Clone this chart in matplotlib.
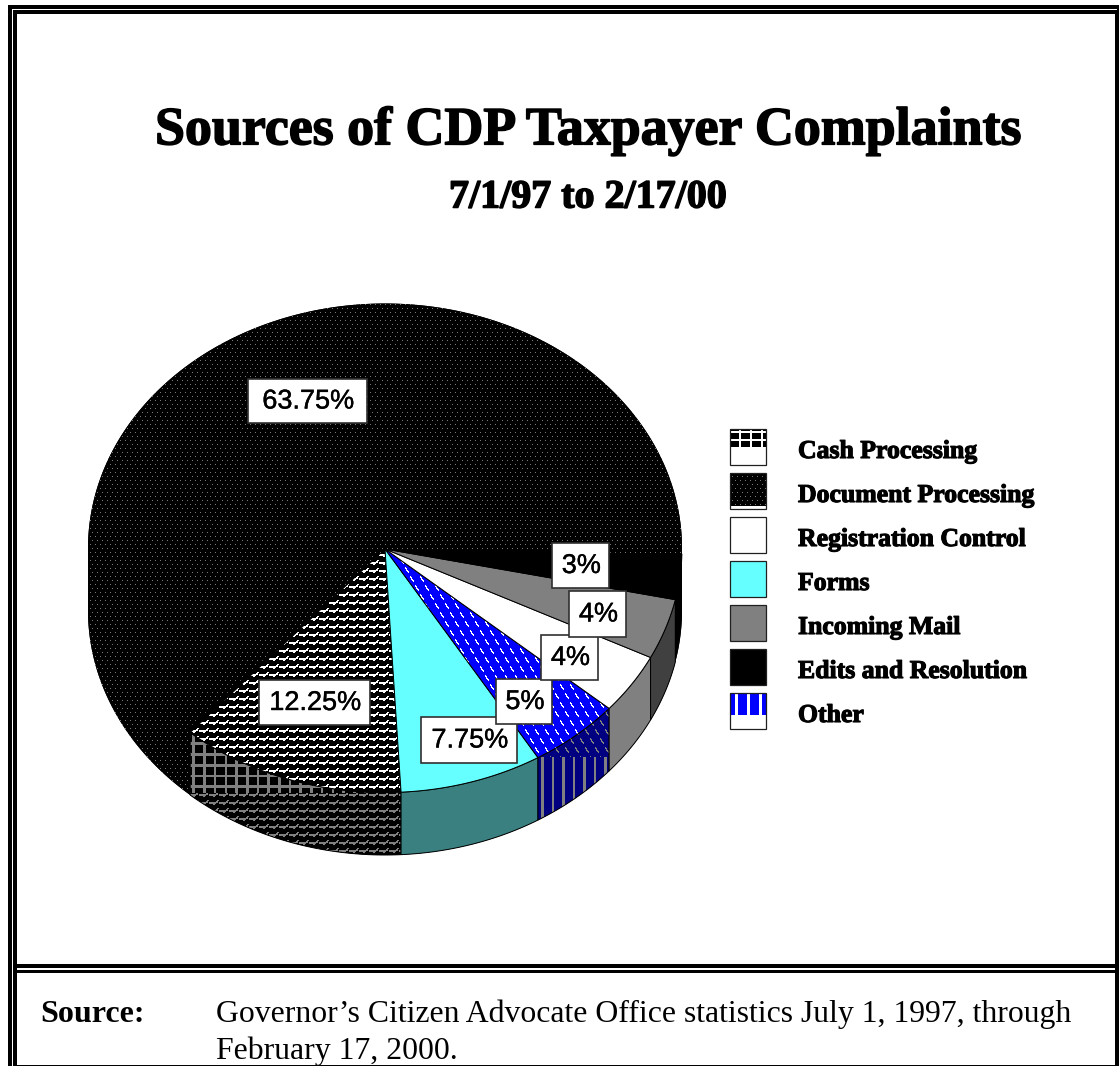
import numpy as np
import matplotlib
matplotlib.use("Agg")
import matplotlib.pyplot as plt
import matplotlib.patheffects as pe
from matplotlib.patches import Polygon, Rectangle

# Complaint shares (percent), in legend order
categories = ["Cash Processing", "Document Processing", "Registration Control",
              "Forms", "Incoming Mail", "Edits and Resolution", "Other"]
shares = [12.25, 63.75, 4, 7.75, 4, 3, 5]
# Order of the slices going counter-clockwise around the pie
slice_order = ["Cash Processing", "Forms", "Other", "Registration Control",
               "Incoming Mail", "Edits and Resolution", "Document Processing"]

title = "Sources of CDP Taxpayer Complaints"
subtitle = "7/1/97 to 2/17/00"
source_head = "Source:"
source_lines = ["Governor\u2019s Citizen Advocate Office statistics July 1, 1997, through",
                "February 17, 2000."]

W, H = 1119, 1066
SERIF = "Liberation Serif"
SANS = "Liberation Sans"

fig = plt.figure(figsize=(W / 100, H / 100), dpi=100, facecolor="white")
ax = fig.add_axes([0, 0, 1, 1])
ax.set_xlim(0, W)
ax.set_ylim(H, 0)
ax.axis("off")

X, Y = np.meshgrid(np.arange(W), np.arange(H))


def tile_mask(rows):
    """Repeat a character tile over the whole canvas as a boolean mask."""
    tile = np.array([[c == "W" for c in r] for r in rows])
    h, w = tile.shape
    return tile[Y % h, X % w]


def fill_texture(verts, mask, fg, bg, zorder=2, edge=None):
    """Paint a two-colour pattern, clipped to a polygon."""
    fg_rgb = np.array(matplotlib.colors.to_rgb(fg))
    bg_rgb = np.array(matplotlib.colors.to_rgb(bg))
    img = np.where(mask[..., None], fg_rgb, bg_rgb)
    im = ax.imshow(img, extent=(0, W, H, 0), interpolation="nearest",
                   aspect="auto", zorder=zorder)
    im.set_clip_path(Polygon(verts, closed=True, transform=ax.transData))
    if edge:
        ax.add_patch(Polygon(verts, closed=True, fill=False, ec=edge, lw=0.7, zorder=zorder))


dots = tile_mask(["W....W....",
                  "..........",
                  "..........",
                  "..........",
                  "..W....W..",
                  "..........",
                  "..........",
                  ".........."])
bars = tile_mask([".......WW.",
                  "......WW..",
                  "WWWWWWWW.W",
                  "WWWWWW...W",
                  "...WW.....",
                  "..........",
                  "..........",
                  ".........."])
dashes = tile_mask(["W.........",
                    "WW........",
                    ".W........",
                    ".WW.......",
                    "..WW......",
                    "...W......",
                    "..........",
                    "..........",
                    "..........",
                    ".....W....",
                    ".....WW...",
                    "......W...",
                    "......WW..",
                    ".......WW.",
                    "........W.",
                    "..........",
                    "..........",
                    ".........."])
grid = ((X - 192) % 10.7 < 2.6) | ((Y - 742) % 10.75 < 2.6)
vstripes = (X - 541) % 10.5 < 2.2
nothing = np.zeros_like(X, dtype=bool)
swatch_grid = ((X - 728) % 11 < 2) | ((Y - 431) % 8 < 2)
swatch_stripes = (X - 735) % 11.7 < 3

# Tilted pie: ellipse for the top face, offset by the rim depth for the bottom
CX, CY, RX, RY, DEPTH = 385, 548, 297, 244.5, 62.5
START = 229.0


def rim(a0, a1, dy=0):
    t = np.radians(np.linspace(a0, a1, max(int(abs(a1 - a0) * 3), 2)))
    return np.column_stack([CX + RX * np.cos(t), CY + dy - RY * np.sin(t)])


value_of = dict(zip(categories, shares))
angles = {}
a = START
for name in slice_order:
    sweep = value_of[name] * 3.6
    angles[name] = (a, a + sweep)
    a += sweep

top_style = {
    "Cash Processing": (bars, "white", "black"),
    "Forms": (nothing, "white", "#66FFFF"),
    "Other": (dashes, "white", "#0000FF"),
    "Registration Control": (nothing, "white", "white"),
    "Incoming Mail": (nothing, "white", "#808080"),
    "Edits and Resolution": (nothing, "white", "black"),
    "Document Processing": (dots, "#787878", "black"),
}
wall_style = {
    "Cash Processing": (bars, grid, 793, "#808080", "black"),
    "Forms": (nothing, nothing, 0, "black", "#3B8080"),
    "Other": (vstripes, dashes, 757, "#808080", "#000080"),
    "Registration Control": (nothing, nothing, 0, "black", "#808080"),
    "Incoming Mail": (nothing, nothing, 0, "black", "#404040"),
    "Edits and Resolution": (nothing, nothing, 0, "black", "black"),
    "Document Processing": (dots, dots, 0, "#787878", "black"),
}

# Solid silhouette under the slices keeps the seams between them dark
silhouette = np.vstack([rim(0, 180), rim(180, 360, DEPTH)])
ax.add_patch(Polygon(silhouette, closed=True, fc="black", ec="none", zorder=1))

for name in slice_order:
    a0, a1 = angles[name]
    top_verts = np.vstack([[[CX, CY + 1]], rim(a0, a1)])
    # Document Processing wraps around the back: only its front-left stretch shows a rim
    wall_range = (180, START) if name == "Document Processing" else (a0, a1)
    wall = np.vstack([rim(*wall_range), rim(wall_range[1], wall_range[0], DEPTH)])
    lower, upper, split, fg, bg = wall_style[name]
    mask = np.where(Y < split, upper, lower)
    has_edge = name not in ("Document Processing", "Edits and Resolution")
    fill_texture(wall, mask, fg, bg, zorder=2, edge="black" if has_edge else None)
    m, fg, bg = top_style[name]
    fill_texture(top_verts, m, fg, bg, zorder=3,
                 edge=None if name == "Document Processing" else "black")

# Value labels, stacked so later boxes overlap earlier ones
label_boxes = {
    "Document Processing": (248, 379, 367, 423),
    "Cash Processing": (259, 680, 370, 725),
    "Forms": (421, 717, 517, 763),
    "Other": (496, 679, 552, 724),
    "Registration Control": (541, 635, 598, 680),
    "Incoming Mail": (569, 591, 626, 637),
    "Edits and Resolution": (552, 543, 609, 588),
}
label_stroke = [pe.withStroke(linewidth=0.3, foreground="black")]
for i, (name, (x0, y0, x1, y1)) in enumerate(label_boxes.items()):
    z = 5 + i * 0.1
    ax.add_patch(Rectangle((x0, y0), x1 - x0, y1 - y0, fc="white", ec="#303030", lw=1.2, zorder=z))
    ax.text((x0 + x1) / 2 + 1, (y0 + y1) / 2 + 0.5, f"{value_of[name]:g}%", family=SANS, fontsize=19.5,
            ha="center", va="center", color="black", path_effects=label_stroke, zorder=z + 0.01)

# Legend
legend_rows = [429, 473, 517, 561, 605, 649, 693]
legend_split = [448, 506, 0, 0, 0, 0, 715]
legend_style = [
    (swatch_grid, "white", "black"),
    (dots, "#787878", "black"),
    (nothing, "white", "white"),
    (nothing, "white", "#66FFFF"),
    (nothing, "white", "#808080"),
    (nothing, "white", "black"),
    (swatch_stripes, "white", "#0000FF"),
]
thick = [pe.withStroke(linewidth=0.8, foreground="black")]
for i, (name, y0) in enumerate(zip(categories, legend_rows)):
    m, fg, bg = legend_style[i]
    split = legend_split[i]
    box = [(730, y0), (766, y0), (766, y0 + 36), (730, y0 + 36)]
    if split:
        ax.add_patch(Rectangle((730, y0), 36, 36, fc="white", ec="none", zorder=2))
        fill_texture([(730, y0), (766, y0), (766, split), (730, split)], m, fg, bg, zorder=3)
    else:
        ax.add_patch(Rectangle((730, y0), 36, 36, fc=bg, ec="none", zorder=2))
    ax.add_patch(Polygon(box, closed=True, fill=False, ec="#202020", lw=0.9, zorder=4))
    ax.text(798, y0 + 22.5, name, family=SERIF, weight="bold", fontsize=18.55, va="center", ha="left",
            color="black", path_effects=thick, zorder=6)

# Titles
title_stroke = [pe.withStroke(linewidth=1.1, foreground="black")]
ax.text(588, 131, title, family=SERIF, weight="bold", fontsize=38.8, ha="center", va="center",
        path_effects=title_stroke, zorder=6)
ax.text(588, 198, subtitle, family=SERIF, weight="bold", fontsize=28.8, ha="center", va="center",
        path_effects=title_stroke, zorder=6)

# Source note
ax.text(40, 1014, source_head, family=SERIF, weight="bold", fontsize=23, ha="left", va="center", zorder=6)
ax.text(216, 1014, source_lines[0], family=SERIF, fontsize=22.9, ha="left", va="center", zorder=6)
ax.text(216, 1051, source_lines[1], family=SERIF, fontsize=22.9, ha="left", va="center", zorder=6)

# Double-ruled frame around the chart and the note
frame_bars = [
    (8, 5, W - 8, 4), (13, 10, W - 13, 4),          # top rules
    (8, 5, 4, H - 5), (13, 10, 4, H - 10),          # left rules
    (1117, 5, 2, H - 5), (1115, 10, 1.5, H - 10),   # right rules
    (13, 964, 1102.5, 4), (13, 970, 1102.5, 3),     # divider above the note
    (13, 1064.5, 1102.5, 1.5),                      # bottom rule
]
for x, y, w, h in frame_bars:
    ax.add_patch(Rectangle((x, y), w, h, fc="black", ec="none", zorder=7))
ax.add_patch(Rectangle((17, 968), 1098, 2, fc="white", ec="none", zorder=8))

fig.savefig("out.png", dpi=100, facecolor="white")
